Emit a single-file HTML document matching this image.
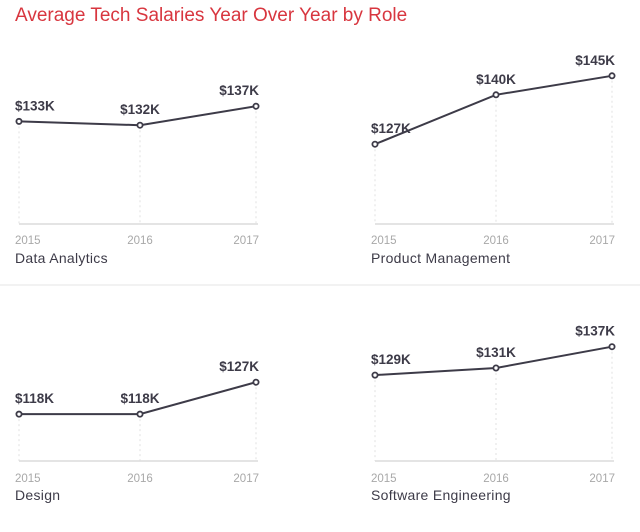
<!DOCTYPE html>
<html><head><meta charset="utf-8"><style>
body{margin:0;background:#fff;width:640px;height:527px;overflow:hidden;font-family:"Liberation Sans",sans-serif}
</style></head><body>
<svg width="640" height="527" xmlns="http://www.w3.org/2000/svg">
<text x="15" y="21" fill="#d8363f" font-size="19">Average Tech Salaries Year Over Year by Role</text>
<line x1="0" y1="285" x2="640" y2="285" stroke="#e6e6e6" stroke-width="1"/>
<g id="g"></g>
</svg>
<script>
const years = ["2015","2016","2017"];
const roles = ["Data Analytics","Product Management","Design","Software Engineering"];
const dataAnalytics = [133,132,137];
const productManagement = [127,140,145];
const design = [118,118,127];
const softwareEngineering = [129,131,137];
const series = [dataAnalytics, productManagement, design, softwareEngineering];
const g = document.getElementById('g');
const NS = "http://www.w3.org/2000/svg";
function mk(tag, attrs, txt){const e=document.createElementNS(NS,tag);for(const k in attrs)e.setAttribute(k,attrs[k]);if(txt!=null)e.textContent=txt;g.appendChild(e);return e;}
const panels = [
 {x0:19,x1:140,x2:256,base:224,min:106,k:3.8,yearY:244,nameY:263},
 {x0:375,x1:496,x2:612,base:224,min:106,k:3.8,yearY:244,nameY:263},
 {x0:19,x1:140,x2:256,base:461,min:104.8,k:3.55,yearY:482,nameY:500},
 {x0:375,x1:496,x2:612,base:461,min:104.8,k:3.55,yearY:482,nameY:500}
];
panels.forEach((p,pi)=>{
 const xs=[p.x0,p.x1,p.x2];
 const xScale=i=>xs[i];
 const yScale=v=>p.base-(v-p.min)*p.k;
 const vals=series[pi];
 xs.forEach((x,i)=>{
  const gl=mk('line',{x1:x,y1:yScale(vals[i]),x2:x,y2:p.base,stroke:'#e2e2e2','stroke-dasharray':'2,3'});
  
  
 });
 const bl=mk('line',{x1:p.x0,y1:p.base,x2:p.x2+2,y2:p.base,stroke:'#dcdcdc','stroke-width':1.5});
 
 
 const pts=vals.map((v,i)=>xScale(i)+','+yScale(v)).join(' ');
 const ln=mk('polyline',{points:pts,fill:'none',stroke:'#3d3b48','stroke-width':2});
 
 
 vals.forEach((v,i)=>{
  const c=mk('circle',{cx:xScale(i),cy:yScale(v),r:2.6,fill:'#fff',stroke:'#3d3b48','stroke-width':1.8});
  
  
  const anchor=i===0?'start':(i===1?'middle':'end');
  const tx=i===0?p.x0-4:(i===1?p.x1:p.x2+3);
  const t=mk('text',{x:tx,y:yScale(v)-11,'text-anchor':anchor,'font-size':13.5,'font-weight':'bold',fill:'#3d3b48'},'$'+v+'K');
  
  
  const yt=mk('text',{x:tx,y:p.yearY,'text-anchor':anchor,'font-size':11.5,fill:'#a8a8a8'},years[i]);
  
  
 });
 const nm=mk('text',{x:p.x0-4,y:p.nameY,'font-size':14,'letter-spacing':0.3,fill:'#3d3b48'},roles[pi]);
 
 
});
</script>
</body></html>
